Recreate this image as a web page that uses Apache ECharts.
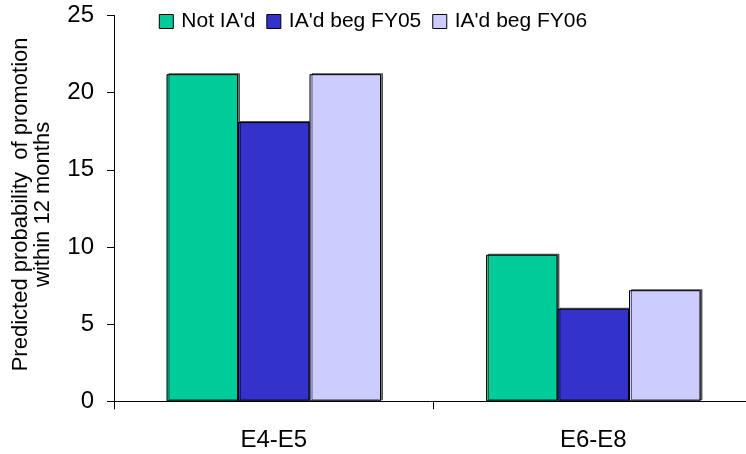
<!DOCTYPE html>
<html><head><meta charset="utf-8">
<script src="https://cdn.jsdelivr.net/npm/echarts@6/dist/echarts.min.js"></script>
<style>html,body{margin:0;padding:0;background:#fff}#c{width:746px;height:454px}</style>
</head><body><div id="c"></div>
<script>
var categories = ["E4-E5", "E6-E8"];
var seriesNames = ["Not IA'd", "IA'd beg FY05", "IA'd beg FY06"];
var notIAd = [21.2, 9.5];
var iadFY05 = [18.1, 6.0];
var iadFY06 = [21.2, 7.2];
var yTicks = [0, 5, 10, 15, 20, 25];
var colors = ['#00CC99', '#3333CC', '#CCCCFF'];

var font = 'Liberation Sans, Arial, sans-serif';
function mk(name, data, color) {
  return {
    name: name, type: 'bar', data: data, barWidth: 71.5, barGap: '0%',
    itemStyle: { color: color, borderColor: '#000', borderWidth: 1,
      shadowColor: 'rgba(0,0,0,0.55)', shadowOffsetX: 2, shadowOffsetY: -1, shadowBlur: 0 },
    emphasis: { disabled: true }
  };
}
var chart = echarts.init(document.getElementById('c'));
chart.setOption({
  animation: false,
  textStyle: { fontFamily: font, color: '#000' },
  legend: {
    top: 6, left: 'center', itemWidth: 14, itemHeight: 14, itemGap: 11,
    icon: 'rect',
    itemStyle: { borderColor: '#000', borderWidth: 1 },
    textStyle: { fontSize: 21, color: '#000', fontFamily: font, padding: [0, 0, 0, 3] },
    data: seriesNames
  },
  grid: { left: 114, right: -7, top: 15.5, bottom: 454 - 401.3, containLabel: false, outerBoundsMode: 'none' },
  xAxis: {
    type: 'category', data: categories,
    axisLine: { lineStyle: { color: '#000', width: 1 } },
    axisTick: { show: true, length: 8, lineStyle: { color: '#000' } },
    axisLabel: { fontSize: 24, color: '#000', margin: 27, fontFamily: font }
  },
  yAxis: {
    type: 'value', min: yTicks[0], max: yTicks[yTicks.length - 1], interval: 5,
    name: "Predicted probability  of promotion\nwithin 12 months",
    nameLocation: 'middle', nameGap: 60, nameRotate: 90,
    nameTextStyle: { fontSize: 22, color: '#000', fontFamily: font, lineHeight: 22, padding: [0, 0, 0, 8] },
    axisLine: { show: true, lineStyle: { color: '#000', width: 1 } },
    axisTick: { show: true, length: 7, lineStyle: { color: '#000' } },
    splitLine: { show: false },
    axisLabel: { fontSize: 24, color: '#000', margin: 20, fontFamily: font }
  },
  series: [mk(seriesNames[0], notIAd, colors[0]), mk(seriesNames[1], iadFY05, colors[1]), mk(seriesNames[2], iadFY06, colors[2])]
});
</script></body></html>
